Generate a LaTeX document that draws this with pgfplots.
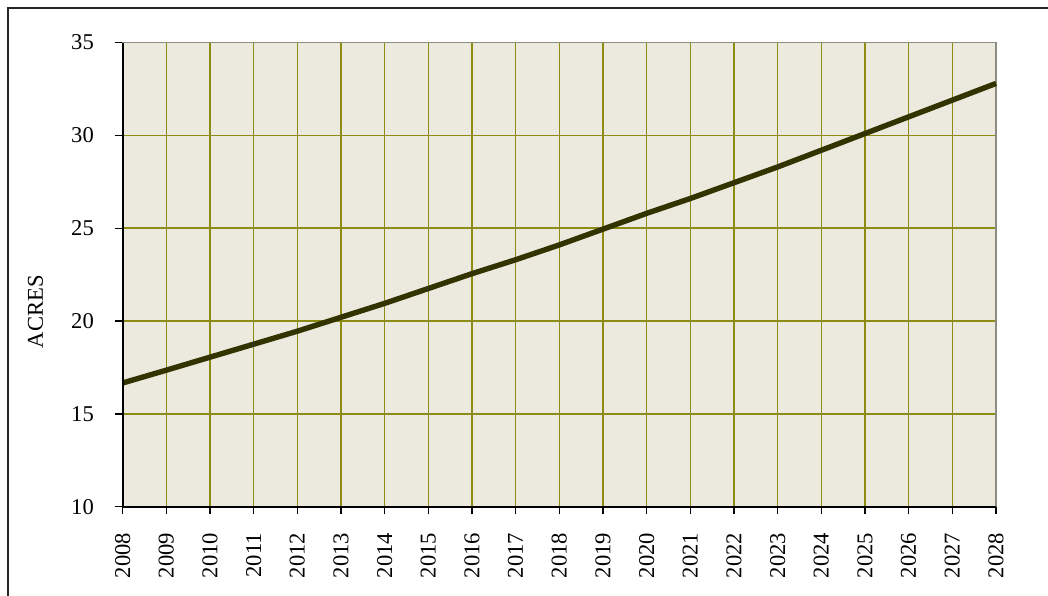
\documentclass[border=0pt]{standalone}
\usepackage{pgfplots}
\pgfplotsset{compat=1.18}
\usepackage{fontspec}
\setmainfont{Liberation Serif}
\definecolor{bgc}{RGB}{236,233,223}
\definecolor{gridc}{RGB}{140,140,20}
\definecolor{linec}{RGB}{51,51,0}
\definecolor{edgec}{RGB}{140,140,128}
\begin{document}
\begin{tikzpicture}
\clip (0,0) rectangle (524pt,297.5pt);
\useasboundingbox (0,0) rectangle (524pt,297.5pt);
\draw[line width=0.8pt, black!85] (4pt,-10pt) -- (4pt,293.5pt) -- (540pt,293.5pt);
\begin{axis}[
  at={(61.3pt,44.2pt)}, anchor=south west,
  scale only axis, width=436.7pt, height=232pt,
  xmin=2008, xmax=2028, ymin=10, ymax=35,
  xtick={2008,2009,...,2028}, ytick={10,15,...,35},
  xticklabel style={rotate=90, anchor=east, inner sep=0pt, font=\fontsize{11.3}{12}\selectfont, /pgf/number format/1000 sep={}},
  yticklabel style={inner sep=0pt, font=\fontsize{11.3}{12}\selectfont},
  xticklabel shift=9.3pt, yticklabel shift=10.5pt,
  /pgf/number format/assume math mode=true,
  xtick pos=bottom, ytick pos=left,
  tick align=outside, major tick length=3.7pt,
  tick style={black, line width=0.7pt},
  grid=major, major grid style={gridc, line width=0.75pt},
  axis background/.style={fill=bgc},
  axis line style={edgec, line width=0.7pt},
  ylabel={ACRES},
  ylabel style={font=\fontsize{11.3}{12}\selectfont, at={(axis description cs:-0.0905,0.42)}, anchor=south, rotate=0, inner sep=0pt},
  clip=false,
]
\addplot[linec, line width=2.7pt] coordinates {
(2008,16.66) (2009,17.35) (2010,18.05) (2011,18.75) (2012,19.45)
(2013,20.2) (2014,20.95) (2015,21.75) (2016,22.55) (2017,23.3)
(2018,24.1) (2019,24.95) (2020,25.8) (2021,26.6) (2022,27.45)
(2023,28.3) (2024,29.2) (2025,30.1) (2026,31.0) (2027,31.9) (2028,32.8)
};
\draw[black, line width=0.9pt] (rel axis cs:0,1) -- (rel axis cs:0,0) -- (rel axis cs:1,0);
\end{axis}
\end{tikzpicture}
\end{document}
